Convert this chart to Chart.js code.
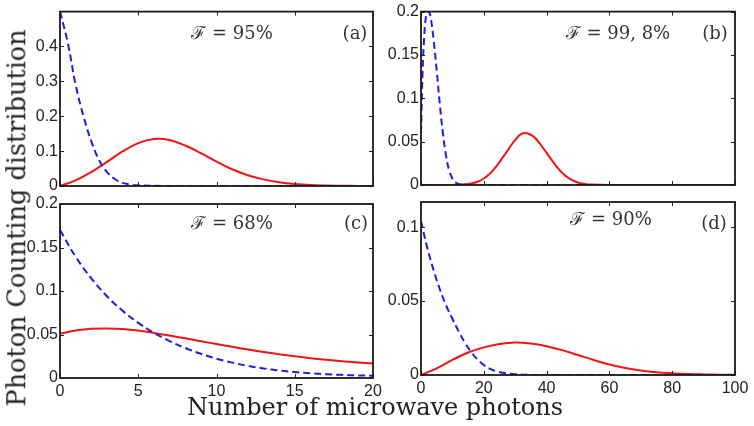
<!DOCTYPE html>
<html>
<head>
<meta charset="utf-8">
<script src="https://cdn.jsdelivr.net/npm/chart.js@4.4.0/dist/chart.umd.min.js"></script>
<style>
  html, body { margin: 0; padding: 0; background: #fff; }
  #wrap { position: relative; width: 754px; height: 426px; overflow: hidden; }
  canvas { position: absolute; left: 0; top: 0; }
  .txt { position: absolute; font-family: "DejaVu Serif", serif; color: #222; white-space: nowrap;
         transform: translate(-50%, -50%); line-height: 1; }
  .ann { font-size: 18px; color: #333; }
  .axt { font-size: 24px; }
</style>
</head>
<body>
<div id="wrap">
  <canvas id="chartA" width="754" height="426"></canvas>
  <canvas id="chartB" width="754" height="426"></canvas>
  <canvas id="chartC" width="754" height="426"></canvas>
  <canvas id="chartD" width="754" height="426"></canvas>

  <div class="txt ann" style="left:232px; top:33px;">ℱ = 95%</div>
  <div class="txt ann" style="left:355px; top:33px;">(a)</div>
  <div class="txt ann" style="left:618px; top:33px;">ℱ = 99, 8%</div>
  <div class="txt ann" style="left:715px; top:33px;">(b)</div>
  <div class="txt ann" style="left:232px; top:223px;">ℱ = 68%</div>
  <div class="txt ann" style="left:356px; top:223px;">(c)</div>
  <div class="txt ann" style="left:611px; top:219px;">ℱ = 90%</div>
  <div class="txt ann" style="left:714px; top:223px;">(d)</div>

  <div class="txt axt" style="left:375px; top:407px;">Number of microwave photons</div>
  <div class="txt axt" style="left:17px; top:218px; font-size:25.5px; transform: translate(-50%, -50%) rotate(-90deg);">Photon Counting distribution</div>
</div>

<script>
// ## DATA ##

// (a)  F = 95%
const xRedA = [0, 1, 2, 3, 4, 5, 6, 7, 8, 9, 10, 11, 12, 13, 14, 15, 16, 17, 18, 19, 20];
const redA = [0, 0.016, 0.04, 0.069, 0.099, 0.123, 0.135, 0.132, 0.116, 0.094, 0.07, 0.048, 0.031, 0.019, 0.011, 0.006, 0.003, 0.0015, 0.0007, 0.0003, 0.0001];
const xBlueA = [0, 0.5, 1, 1.5, 2, 2.5, 3, 3.5, 4, 4.5, 5, 6, 8, 10, 12, 14, 16, 18, 20];
const blueA = [0.5, 0.41, 0.29, 0.2, 0.128, 0.074, 0.04, 0.02, 0.009, 0.004, 0.002, 0.0005, 0, 0, 0, 0, 0, 0, 0];

// (b)  F = 99,8%
const xRedB = [0, 10, 14, 16, 18, 20, 22, 24, 26, 28, 30, 32, 34, 36, 38, 40, 42, 44, 46, 48, 50, 52, 54, 60, 80, 100];
const redB = [0, 0, 0.0008, 0.0018, 0.0038, 0.0075, 0.0133, 0.0215, 0.0315, 0.042, 0.052, 0.059, 0.0595, 0.0555, 0.047, 0.037, 0.027, 0.0178, 0.0107, 0.0059, 0.0029, 0.0013, 0.0005, 0, 0, 0];
const xBlueB = [0, 0.5, 1, 1.5, 2, 2.5, 3, 4, 5, 6, 7, 8, 9, 10, 11, 12, 14, 20, 40, 60, 80, 100];
const blueB = [0.06, 0.13, 0.17, 0.192, 0.2, 0.2, 0.195, 0.168, 0.132, 0.093, 0.059, 0.033, 0.0166, 0.0074, 0.003, 0.0011, 0, 0, 0, 0, 0, 0];

// (c)  F = 68%
const xC = [0, 1, 2, 3, 4, 5, 6, 7, 8, 9, 10, 11, 12, 13, 14, 15, 16, 17, 18, 19, 20];
const redC = [0.051, 0.0545, 0.0565, 0.057, 0.0563, 0.0545, 0.0518, 0.0488, 0.0456, 0.0423, 0.039, 0.0358, 0.0328, 0.03, 0.0274, 0.025, 0.0228, 0.0209, 0.0192, 0.0178, 0.0166];
const blueC = [0.17, 0.1395, 0.1145, 0.094, 0.0772, 0.0634, 0.052, 0.0425, 0.0345, 0.0278, 0.0222, 0.0177, 0.014, 0.011, 0.0087, 0.0069, 0.0055, 0.0044, 0.0036, 0.003, 0.0026];

// (d)  F = 90%
const xRedD = [0, 5, 10, 15, 20, 25, 30, 35, 40, 45, 50, 55, 60, 65, 70, 75, 80, 85, 90, 95, 100];
const redD = [0, 0.0045, 0.0102, 0.0152, 0.0187, 0.021, 0.022, 0.0213, 0.0195, 0.0168, 0.0135, 0.0101, 0.0071, 0.0048, 0.0031, 0.0019, 0.0012, 0.0007, 0.0004, 0.0002, 0.0001];
const xBlueD = [0, 2, 4, 6, 8, 10, 12, 14, 16, 18, 20, 22, 24, 26, 28, 30, 35, 40, 60, 80, 100];
const blueD = [0.104, 0.086, 0.071, 0.058, 0.047, 0.038, 0.0295, 0.0218, 0.0155, 0.0105, 0.0068, 0.0042, 0.0025, 0.0015, 0.0009, 0.0005, 0.0001, 0, 0, 0, 0];

// tick values
const xTicks20 = [0, 5, 10, 15, 20];
const xTicks100 = [0, 20, 40, 60, 80, 100];
const yTicksA = [0, 0.1, 0.2, 0.3, 0.4];
const yTicksBC = [0, 0.05, 0.1, 0.15, 0.2];
const yTicksD = [0, 0.05, 0.1];

// ## DRAWING ##

const RED = "#f01414";
const BLUE = "#1e1ee6";
const W = 754, H = 426;
const Y_W = 40, X_H = 30;

// box with inward ticks on all four sides (matlab style)
const frame = {
  id: "frame",
  afterDraw(chart) {
    const { ctx, chartArea: a, scales } = chart;
    const t = 4;
    ctx.save();
    ctx.strokeStyle = "#222";
    ctx.lineWidth = 1;
    ctx.beginPath();
    scales.x.ticks.forEach((tk) => {
      const px = Math.round(scales.x.getPixelForValue(tk.value)) + 0.5;
      ctx.moveTo(px, a.bottom); ctx.lineTo(px, a.bottom - t);
      ctx.moveTo(px, a.top); ctx.lineTo(px, a.top + t);
    });
    scales.y.ticks.forEach((tk) => {
      const py = Math.round(scales.y.getPixelForValue(tk.value)) + 0.5;
      ctx.moveTo(a.left, py); ctx.lineTo(a.left + t, py);
      ctx.moveTo(a.right, py); ctx.lineTo(a.right - t, py);
    });
    ctx.stroke();
    ctx.lineWidth = 1.8;
    ctx.strokeStyle = "#1a1a1a";
    ctx.strokeRect(a.left, a.top, a.right - a.left, a.bottom - a.top);
    ctx.restore();
  },
};

function pts(xs, ys) {
  return xs.map((x, i) => ({ x: x, y: ys[i] }));
}

function makePanel(id, box, xMax, xTicks, yMax, yTicks, red, blue, showX) {
  const tickFont = { family: "'Liberation Sans', Arial, sans-serif", size: 16 };
  return new Chart(document.getElementById(id), {
    type: "line",
    data: {
      datasets: [
        { data: blue, borderColor: BLUE, borderDash: [7, 4], borderWidth: 2 },
        { data: red, borderColor: RED, borderWidth: 2 },
      ],
    },
    options: {
      responsive: false,
      animation: false,
      devicePixelRatio: 1,
      layout: {
        padding: {
          left: box.left - Y_W,
          top: box.top,
          right: W - box.right,
          bottom: H - box.bottom - X_H,
        },
      },
      plugins: { legend: { display: false }, tooltip: { enabled: false } },
      elements: {
        point: { radius: 0 },
        line: { tension: 0.4, capBezierPoints: true, fill: false },
      },
      scales: {
        x: {
          type: "linear",
          min: 0,
          max: xMax,
          afterBuildTicks: (s) => { s.ticks = xTicks.map((v) => ({ value: v })); },
          afterFit: (s) => { s.height = X_H; },
          grid: { display: false, drawTicks: false },
          border: { display: false },
          ticks: {
            display: showX,
            padding: 4,
            autoSkip: false,
            maxRotation: 0,
            color: "#222",
            font: tickFont,
            callback: (v) => String(v),
          },
        },
        y: {
          type: "linear",
          min: 0,
          max: yMax,
          afterBuildTicks: (s) => { s.ticks = yTicks.map((v) => ({ value: v })); },
          afterFit: (s) => { s.width = Y_W; },
          grid: { display: false, drawTicks: false },
          border: { display: false },
          ticks: {
            padding: 2,
            autoSkip: false,
            color: "#222",
            font: tickFont,
            callback: (v) => String(v),
          },
        },
      },
    },
    plugins: [frame],
  });
}

makePanel("chartA", { left: 60, top: 10, right: 373, bottom: 186 }, 20, xTicks20, 0.5, yTicksA,
  pts(xRedA, redA), pts(xBlueA, blueA), false);
makePanel("chartB", { left: 421, top: 10, right: 735, bottom: 185 }, 100, xTicks100, 0.2, yTicksBC,
  pts(xRedB, redB), pts(xBlueB, blueB), false);
makePanel("chartC", { left: 60, top: 204, right: 373, bottom: 378 }, 20, xTicks20, 0.2, yTicksBC,
  pts(xC, redC), pts(xC, blueC), true);
makePanel("chartD", { left: 421, top: 202, right: 735, bottom: 375 }, 100, xTicks100, 0.117, yTicksD,
  pts(xRedD, redD), pts(xBlueD, blueD), true);
</script>
</body>
</html>
